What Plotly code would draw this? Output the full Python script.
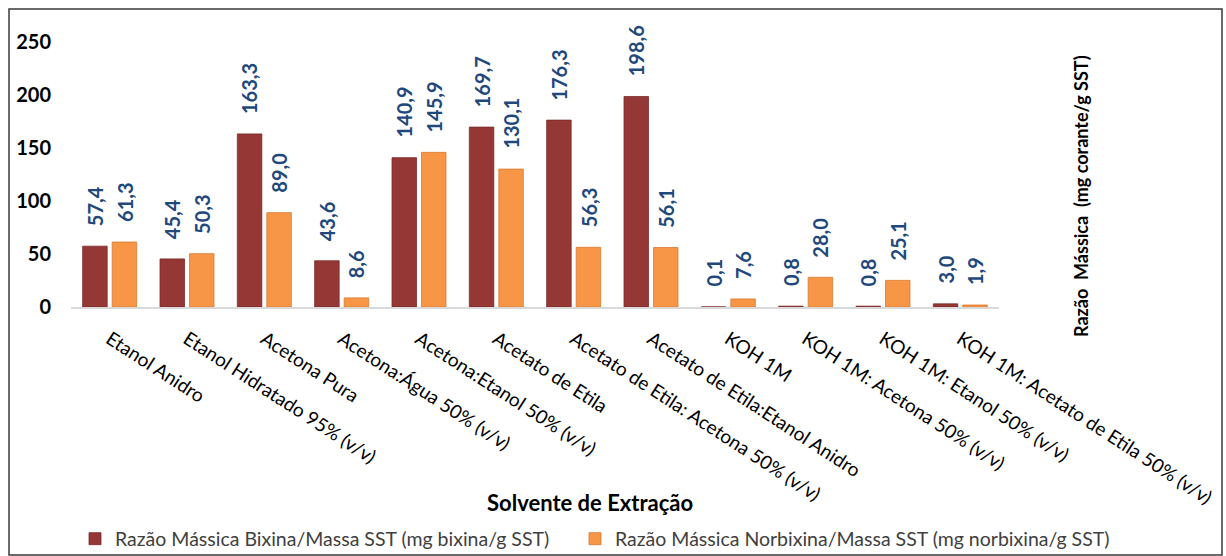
import plotly.graph_objects as go

# Extraction solvents (x categories)
solventes = [
    "Etanol Anidro",
    "Etanol Hidratado 95% (v/v)",
    "Acetona Pura",
    "Acetona:Água 50% (v/v)",
    "Acetona:Etanol 50% (v/v)",
    "Acetato de Etila",
    "Acetato de Etila: Acetona 50% (v/v)",
    "Acetato de Etila:Etanol Anidro",
    "KOH 1M",
    "KOH 1M: Acetona 50% (v/v)",
    "KOH 1M: Etanol 50% (v/v)",
    "KOH 1M: Acetato de Etila 50% (v/v)",
]

# Mass ratios (mg dye / g SST)
bixina = [57.4, 45.4, 163.3, 43.6, 140.9, 169.7, 176.3, 198.6, 0.1, 0.8, 0.8, 3.0]
norbixina = [61.3, 50.3, 89.0, 8.6, 145.9, 130.1, 56.3, 56.1, 7.6, 28.0, 25.1, 1.9]

nome_bixina = "Razão Mássica Bixina/Massa SST (mg bixina/g SST)"
nome_norbixina = "Razão Mássica Norbixina/Massa SST (mg norbixina/g SST)"

y_ticks = [0, 50, 100, 150, 200, 250]

COR_BIX = "#953735"
COR_NOR = "#F79646"
COR_ROTULO = "#1F497D"
FONTE = "Lato"

W, H = 1226, 556
ML, MR, MT, MB = 71, 227, 42, 249
PW, PH = W - ML - MR, H - MT - MB


def px_x(px):
    return (px - ML) / PW


def px_y(py):
    return (H - MB - py) / PH


def fmt(v):
    return f"{v:.1f}".replace(".", ",")


fig = go.Figure()
fig.add_trace(go.Bar(
    x=solventes, y=bixina, name=nome_bixina, legend="legend",
    marker=dict(color=COR_BIX, line=dict(color="#7a2a28", width=0.8)),
))
fig.add_trace(go.Bar(
    x=solventes, y=norbixina, name=nome_norbixina, legend="legend2",
    marker=dict(color=COR_NOR, line=dict(color="#d9782e", width=0.8)),
))

# value labels above each bar, rotated
annotations = []
for valores, dx in ((bixina, -14.7), (norbixina, 14.7)):
    for cat, v in zip(solventes, valores):
        annotations.append(dict(
            x=cat, y=v, xref="x", yref="y", text=fmt(v),
            textangle=-90, showarrow=False, xanchor="center", yanchor="bottom",
            xshift=dx, yshift=18,
            font=dict(family=FONTE, size=20, color=COR_ROTULO, weight="bold"),
        ))

# x-axis title
annotations.append(dict(
    x=px_x(590), y=px_y(503), xref="paper", yref="paper",
    text="<b>Solvente de Extração</b>", showarrow=False,
    xanchor="center", yanchor="middle",
    font=dict(family=FONTE, size=22, color="#000000"),
))
# y-axis title on the right
annotations.append(dict(
    x=px_x(1081), y=px_y(196), xref="paper", yref="paper",
    text="<b>Razão  Mássica  (mg corante/g SST)</b>", showarrow=False,
    textangle=-90, xanchor="center", yanchor="middle",
    font=dict(family=FONTE, size=18, color="#000000"),
))

legenda_base = dict(
    orientation="h", xanchor="left", yanchor="middle",
    font=dict(family=FONTE, size=19.5, color="#404040"),
    bgcolor="rgba(0,0,0,0)", borderwidth=0,
)

fig.update_layout(
    width=W, height=H,
    margin=dict(l=ML, r=MR, t=MT, b=MB, autoexpand=False),
    paper_bgcolor="white", plot_bgcolor="white",
    barmode="group", bargap=0.237, bargroupgap=0.17,
    font=dict(family=FONTE, color="#000000"),
    annotations=annotations,
    shapes=[dict(
        type="rect", xref="paper", yref="paper",
        x0=px_x(9), x1=px_x(1222), y0=px_y(555), y1=px_y(9),
        line=dict(color="#3a3a3a", width=1.5), fillcolor="rgba(0,0,0,0)",
        layer="below",
    )],
    showlegend=True,
    legend=dict(legenda_base, x=px_x(75), y=px_y(539)),
    legend2=dict(legenda_base, x=px_x(575), y=px_y(539)),
    xaxis=dict(
        type="category", showgrid=False, showline=True, linecolor="#D9D9D9",
        linewidth=1.5, ticks="", tickangle=33, ticklabelstandoff=12,
        tickfont=dict(family=FONTE, size=19, color="#000000"),
        range=[-0.5, len(solventes) - 0.5],
    ),
    yaxis=dict(
        range=[0, 250], tickvals=y_ticks, showgrid=False, zeroline=False,
        showline=False, ticks="", ticklabelstandoff=19,
        tickfont=dict(family=FONTE, size=20, color="#000000", weight="bold"),
    ),
)

fig.write_html("out.html")
